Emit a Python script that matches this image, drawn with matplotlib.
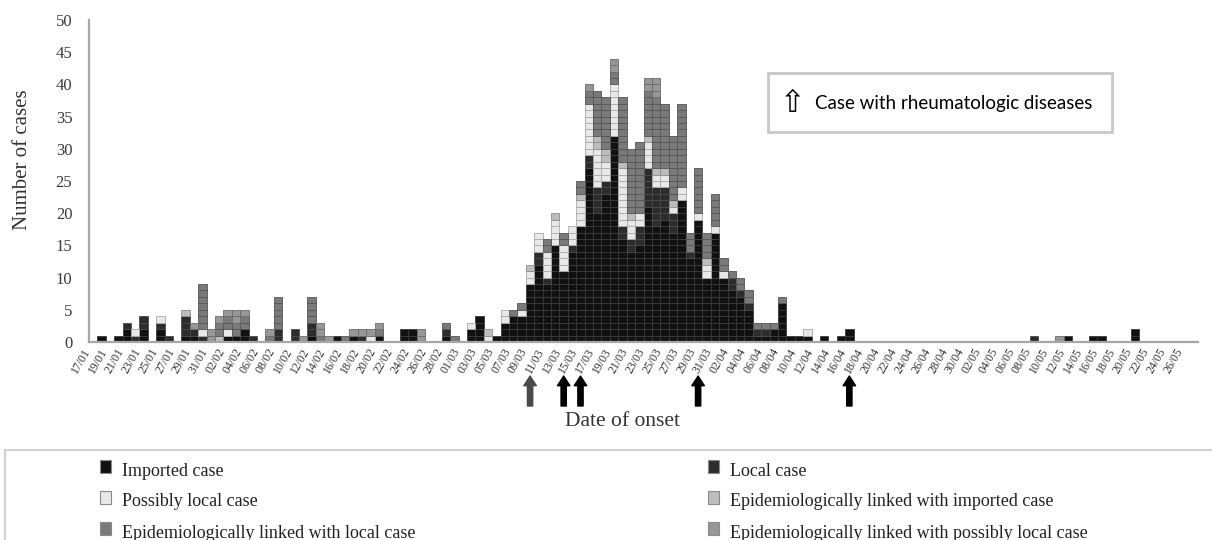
import numpy as np
import pandas as pd
import matplotlib
matplotlib.use('Agg')
import matplotlib.pyplot as plt
from matplotlib.patches import Rectangle

# one category per day of onset, 17/01 .. 27/05 (2020)
dates = pd.date_range('2020-01-17', '2020-05-27').strftime('%d/%m')

# cases per day, one list per group (10 days per line)
imported = [0, 1, 0, 1, 2, 0, 2, 0, 2, 0,
            0, 1, 1, 0, 0, 0, 1, 1, 2, 0,
            0, 0, 0, 0, 0, 0, 1, 0, 0, 1,
            0, 1, 0, 0, 1, 0, 0, 2, 2, 0,
            0, 0, 1, 0, 0, 2, 4, 0, 1, 3,
            4, 4, 9, 12, 9, 15, 11, 14, 18, 27,
            20, 23, 32, 16, 14, 15, 21, 18, 19, 17,
            22, 13, 19, 10, 17, 10, 8, 7, 5, 1,
            1, 2, 6, 1, 1, 1, 0, 1, 0, 1,
            2, 0, 0, 0, 0, 0, 0, 0, 0, 0,
            0, 0, 0, 0, 0, 0, 0, 0, 0, 0,
            0, 0, 0, 0, 0, 0, 1, 0, 0, 1,
            1, 0, 0, 0, 2, 0, 0, 0, 0, 0,
            0, 0]
local = [0, 0, 0, 0, 1, 1, 2, 0, 1, 1,
         0, 3, 1, 1, 0, 0, 0, 0, 0, 1,
         0, 0, 2, 0, 2, 0, 2, 0, 0, 0,
         0, 0, 1, 0, 0, 0, 0, 0, 0, 0,
         0, 0, 1, 0, 0, 0, 0, 0, 0, 0,
         0, 0, 0, 2, 1, 0, 0, 1, 0, 2,
         4, 2, 0, 2, 2, 3, 6, 6, 5, 3,
         0, 1, 0, 0, 0, 0, 2, 1, 1, 1,
         1, 0, 0, 0, 0, 0, 0, 0, 0, 0,
         0, 0, 0, 0, 0, 0, 0, 0, 0, 0,
         0, 0, 0, 0, 0, 0, 0, 0, 0, 0,
         0, 0, 1, 0, 0, 0, 0, 0, 0, 0,
         0, 0, 0, 0, 0, 0, 0, 0, 0, 0,
         0, 0]
possibly_local = [0, 0, 0, 0, 0, 1, 0, 0, 1, 0,
                  0, 0, 0, 1, 0, 0, 1, 0, 0, 0,
                  0, 0, 0, 0, 0, 0, 0, 0, 0, 0,
                  0, 0, 0, 1, 0, 0, 0, 0, 0, 0,
                  0, 0, 0, 0, 0, 1, 0, 1, 0, 2,
                  0, 1, 2, 3, 4, 4, 4, 3, 4, 8,
                  6, 3, 8, 9, 3, 2, 4, 2, 2, 1,
                  2, 0, 1, 2, 1, 1, 0, 0, 0, 0,
                  0, 0, 0, 0, 0, 1, 0, 0, 0, 0,
                  0, 0, 0, 0, 0, 0, 0, 0, 0, 0,
                  0, 0, 0, 0, 0, 0, 0, 0, 0, 0,
                  0, 0, 0, 0, 0, 0, 0, 0, 0, 0,
                  0, 0, 0, 0, 0, 0, 0, 0, 0, 0,
                  0, 0]
epi_imported = [0, 0, 0, 0, 0, 0, 0, 0, 0, 0,
                0, 1, 0, 0, 0, 1, 0, 0, 0, 0,
                0, 0, 0, 0, 0, 0, 0, 0, 0, 0,
                0, 0, 0, 0, 0, 0, 0, 0, 0, 0,
                0, 0, 0, 0, 0, 0, 0, 1, 0, 0,
                0, 0, 1, 0, 0, 1, 0, 0, 1, 0,
                2, 2, 0, 1, 1, 0, 1, 1, 1, 1,
                0, 0, 0, 1, 0, 0, 0, 0, 0, 0,
                0, 0, 0, 0, 0, 0, 0, 0, 0, 0,
                0, 0, 0, 0, 0, 0, 0, 0, 0, 0,
                0, 0, 0, 0, 0, 0, 0, 0, 0, 0,
                0, 0, 0, 0, 0, 0, 0, 0, 0, 0,
                0, 0, 0, 0, 0, 0, 0, 0, 0, 0,
                0, 0]
epi_local = [0, 0, 0, 0, 0, 0, 0, 0, 0, 0,
             0, 0, 0, 7, 0, 2, 2, 2, 2, 0,
             0, 1, 5, 0, 0, 0, 4, 1, 0, 0,
             1, 0, 0, 0, 1, 0, 0, 0, 0, 0,
             0, 0, 1, 1, 0, 0, 0, 0, 0, 0,
             1, 1, 0, 0, 2, 0, 2, 0, 2, 2,
             7, 8, 2, 10, 10, 11, 7, 11, 10, 10,
             13, 3, 7, 4, 5, 2, 1, 2, 2, 1,
             1, 1, 1, 0, 0, 0, 0, 0, 0, 0,
             0, 0, 0, 0, 0, 0, 0, 0, 0, 0,
             0, 0, 0, 0, 0, 0, 0, 0, 0, 0,
             0, 0, 0, 0, 0, 0, 0, 0, 0, 0,
             0, 0, 0, 0, 0, 0, 0, 0, 0, 0,
             0, 0]
epi_possibly_local = [0, 0, 0, 0, 0, 0, 0, 0, 0, 0,
                      0, 0, 1, 0, 2, 1, 1, 2, 1, 0,
                      0, 1, 0, 0, 0, 1, 0, 2, 1, 0,
                      0, 1, 1, 1, 1, 0, 0, 0, 0, 2,
                      0, 0, 0, 0, 0, 0, 0, 0, 0, 0,
                      0, 0, 0, 0, 0, 0, 0, 0, 0, 1,
                      0, 0, 2, 0, 0, 0, 2, 3, 0, 0,
                      0, 0, 0, 0, 0, 0, 0, 0, 0, 0,
                      0, 0, 0, 0, 0, 0, 0, 0, 0, 0,
                      0, 0, 0, 0, 0, 0, 0, 0, 0, 0,
                      0, 0, 0, 0, 0, 0, 0, 0, 0, 0,
                      0, 0, 0, 0, 0, 1, 0, 0, 0, 0,
                      0, 0, 0, 0, 0, 0, 0, 0, 0, 0,
                      0, 0]

labels = ['Imported case', 'Local case', 'Possibly local case',
          'Epidemiologically linked with imported case',
          'Epidemiologically linked with local case',
          'Epidemiologically linked with possibly local case']
# onset dates of the cases with rheumatologic diseases
rheum_dates = ['09/03', '13/03', '15/03', '29/03', '16/04']
rheum_colors = ['#4a4a4a', 'black', 'black', 'black', 'black']

series = [imported, local, possibly_local, epi_imported, epi_local, epi_possibly_local]
colors = ['#111111', '#2c2c2c', '#e8e8e8', '#bdbdbd', '#7a7a7a', '#979797']
edges = ['#3a3a3a', '#4a4a4a', '#a9a9a9', '#8e8e8e', '#555555', '#6b6b6b']

W, H = 1212, 540
fig = plt.figure(figsize=(W / 100, H / 100), dpi=100)
ax = fig.add_axes([89 / W, 1 - 342 / H, (1198 - 89) / W, (342 - 20) / H])

x = np.arange(len(dates))
base = np.zeros(len(dates))
for vals, col, ec in zip(series, colors, edges):
    vals = np.array(vals)
    # every case drawn as its own cell
    for k in range(vals.max()):
        m = vals > k
        ax.bar(x[m], 1, bottom=base[m] + k, width=1.0, color=col,
               edgecolor=ec, linewidth=0.6)
    base += vals

ax.set_xlim(-0.5, len(dates) - 0.5)
ax.set_ylim(0, 50)
ax.set_yticks(range(0, 51, 5))
ax.set_xticks(x[::2])
ax.set_xticklabels(dates[::2], rotation=60, ha='right', va='top',
                   fontsize=8.5, family='Liberation Serif', color='#333333')
for lab in ax.get_yticklabels():
    lab.set_family('Liberation Serif')
ax.tick_params(axis='y', length=0, pad=12, labelsize=12, labelcolor='#3a3a3a')
ax.tick_params(axis='x', length=0, pad=3)
for s in ['top', 'right']:
    ax.spines[s].set_visible(False)
for s in ['left', 'bottom']:
    ax.spines[s].set_color('#a6a6a6')
    ax.spines[s].set_linewidth(1.6)

fig.text(23 / W, 1 - 160 / H, 'Number of cases', rotation=90, ha='center',
         va='center', fontsize=15, family='Liberation Serif', color='#333333')
fig.text(622 / W, 1 - 422 / H, 'Date of onset', ha='center', va='center',
         fontsize=15.5, family='Liberation Serif', color='#333333')

# arrows under the axis
for d, c in zip(rheum_dates, rheum_colors):
    i = list(dates).index(d)
    ax.annotate('', xy=(i, H - 376), xytext=(i, H - 406),
                xycoords=('data', 'figure pixels'),
                textcoords=('data', 'figure pixels'),
                arrowprops=dict(width=3.8, headwidth=9, headlength=7,
                                facecolor=c, edgecolor=c, shrink=0))

# inset key box
fig.add_artist(Rectangle((768 / W, 1 - 132 / H), (1112 - 768) / W, 59 / H,
                         transform=fig.transFigure, facecolor='white',
                         edgecolor='#c8c8c8', linewidth=2))
fig.text(793 / W, 1 - 103 / H, '\u21e7', ha='center', va='center',
         fontsize=22, family='DejaVu Sans', color='black')
fig.text(815 / W, 1 - 103 / H, 'Case with rheumatologic diseases', ha='left',
         va='center', fontsize=13.5, family='Lato', color='black')

# bottom legend box
fig.add_artist(Rectangle((5 / W, 1 - 620 / H), 1300 / W, 170 / H,
                         transform=fig.transFigure, facecolor='white',
                         edgecolor='#d0d0d0', linewidth=1.5))
col_x = [100, 708]
row_y = [471, 502, 533]
for j, (lab, col, ec) in enumerate(zip(labels, colors, edges)):
    cx = col_x[j % 2]
    cy = row_y[j // 2]
    fig.add_artist(Rectangle((cx / W, 1 - (cy + 2) / H), 11 / W, 13 / H,
                             transform=fig.transFigure, facecolor=col,
                             edgecolor='#8a8a8a', linewidth=0.8))
    fig.text((cx + 22) / W, 1 - cy / H, lab, ha='left', va='center',
             fontsize=13, family='Liberation Serif', color='#222222')

fig.savefig('out.png', dpi=100)
